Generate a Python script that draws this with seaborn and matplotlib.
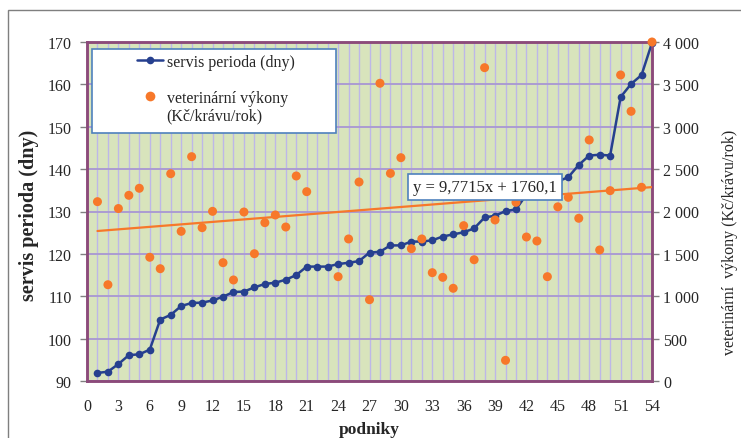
import numpy as np
import pandas as pd
import matplotlib
matplotlib.use("Agg")
import matplotlib.pyplot as plt
import seaborn as sns
from matplotlib.lines import Line2D
from matplotlib.patches import Rectangle
from matplotlib.ticker import MultipleLocator, FuncFormatter

sns.set_style("white")
plt.rcParams["font.family"] = ["Liberation Serif", "DejaVu Serif"]

# ---------------- data ----------------
podniky = list(range(1, 55))
servis_perioda = [91.9, 92.2, 94.0, 96.1, 96.3, 97.4, 104.5, 105.6, 107.7, 108.4,
                  108.5, 109.0, 109.9, 111.0, 111.1, 112.1, 112.9, 113.2, 113.9, 115.0,
                  117.0, 117.0, 117.0, 117.6, 117.9, 118.3, 120.3, 120.5, 122.0, 122.0,
                  122.9, 122.9, 123.2, 124.1, 124.6, 125.1, 126.0, 128.6, 129.0, 130.1,
                  130.5, 134.0, 135.5, 136.5, 137.1, 138.1, 141.0, 143.2, 143.4, 143.2,
                  157.0, 160.1, 162.2, 169.8]
vet_vykony = [2116, 1136, 2035, 2191, 2274, 1460, 1325, 2446, 1766, 2647,
              1809, 2002, 1396, 1192, 1994, 1502, 1868, 1959, 1817, 2419,
              2234, np.nan, np.nan, 1231, 1676, 2348, 959, 3513, 2450, 2635,
              1561, 1676, 1278, 1223, 1094, 1833, 1431, 3697, 1900, 244,
              2108, 1699, 1652, 1231, 2055, 2167, 1920, 2844, 1546, 2246,
              3611, 3182, 2286, 4000]
trend_slope = 9.7715
trend_intercept = 1760.1
trend_label = "y = 9,7715x + 1760,1"
x_ticks = list(range(0, 55, 3))
left_ticks = [90, 100, 110, 120, 130, 140, 150, 160, 170]
right_ticks = [0, 500, 1000, 1500, 2000, 2500, 3000, 3500, 4000]

label_servis = "servis perioda (dny)"
label_vet_1 = "veterinární výkony"
label_vet_2 = "(Kč/krávu/rok)"
ylabel_right = "veterinární  výkony (Kč/krávu/rok)"
xlabel = "podniky"

df = pd.DataFrame({"podnik": podniky, "servis": servis_perioda, "vet": vet_vykony})

# ---------------- style ----------------
BLUE = "#26408f"
ORANGE = "#f7782a"
BG = "#d8e4bc"
SPINE = "#8c4a7a"
VGRID = "#bdb7e8"
HGRID = "#ab9cd2"
TICKFS = 11.5

W, H = 741, 439
fig = plt.figure(figsize=(W / 100, H / 100), dpi=100)
fig.patch.set_facecolor("white")
L, R, T, B = 87, 652, 43, 382
ax = fig.add_axes([L / W, 1 - B / H, (R - L) / W, (B - T) / H])
ax.set_facecolor(BG)

sns.lineplot(data=df, x="podnik", y="servis", ax=ax, color=BLUE, lw=1.8,
             marker="o", markersize=5.5, markeredgewidth=0, zorder=3, clip_on=False)
ax.set_xlim(0, 54)
ax.set_ylim(90, 170)
ax.set_xticks(x_ticks)
ax.set_yticks(left_ticks)
ax.xaxis.set_minor_locator(MultipleLocator(1))
ax.grid(which="both", axis="x", color=VGRID, lw=1.0)
ax.grid(which="major", axis="y", color=HGRID, lw=1.4)
ax.set_axisbelow(True)
ax.tick_params(axis="y", which="both", left=True, length=5, width=1, color="#808080",
               labelsize=TICKFS, pad=6)
ax.tick_params(axis="x", which="both", bottom=True, length=0, labelsize=TICKFS, pad=12)

ax.set_ylabel(label_servis, fontsize=14.5, fontweight="bold", va="center")
ax.yaxis.set_label_coords((29 - L) / (R - L), (B - 215) / (B - T))
ax.set_xlabel(xlabel, fontsize=12.5, fontweight="bold", va="center")
ax.xaxis.set_label_coords(0.5, (B - 430) / (B - T))

ax2 = ax.twinx()
sns.scatterplot(data=df, x="podnik", y="vet", ax=ax2, color=ORANGE, s=42,
                edgecolor="none", linewidth=0, zorder=4, clip_on=False)
tx = np.array([podniky[0], podniky[-1]], dtype=float)
ty = trend_slope * tx + trend_intercept
sns.lineplot(x=tx, y=ty, ax=ax2, color=ORANGE, lw=1.6, zorder=3)
ax2.set_ylim(0, 4000)
ax2.set_yticks(right_ticks)
ax2.yaxis.set_major_formatter(FuncFormatter(lambda v, p: f"{int(v):,}".replace(",", " ")))
ax2.tick_params(axis="y", right=True, length=5, width=1, color="#808080",
                labelsize=TICKFS, pad=3)
ax2.set_ylabel(ylabel_right, fontsize=11.5, rotation=90, va="center")
ax2.yaxis.set_label_coords((730 - L) / (R - L), (B - 242) / (B - T))

for a in (ax, ax2):
    for s in a.spines.values():
        s.set_color(SPINE)
        s.set_linewidth(1.8)
        s.set_visible(True)

# legend box
lx0, lx1, ly0, ly1 = 92, 336, 50, 134
ax2.add_patch(Rectangle(((lx0 - L) / (R - L), (B - ly1) / (B - T)),
                        (lx1 - lx0) / (R - L), (ly1 - ly0) / (B - T),
                        transform=ax2.transAxes, facecolor="white",
                        edgecolor="#4f81bd", lw=1.2, zorder=5))
h_blue = Line2D([], [], color=BLUE, lw=1.8, marker="o", markersize=5.5, markeredgewidth=0)
h_or = Line2D([], [], color=ORANGE, ls="none", marker="o", markersize=7, markeredgewidth=0)
h_blank = Line2D([], [], ls="none")
leg = ax2.legend([h_blue, h_blank, h_or, h_blank],
                 [label_servis, "", label_vet_1, label_vet_2],
                 loc="upper left", bbox_to_anchor=((137 - L) / (R - L), (B - 55) / (B - T)),
                 frameon=False, fontsize=11.5, handlelength=1.6, handletextpad=0.25,
                 labelspacing=0.12, borderpad=0, borderaxespad=0)
leg.set_zorder(6)

# trend equation box
ax2.text((485 - L) / (R - L), (B - 188) / (B - T), trend_label, transform=ax2.transAxes,
         ha="center", va="center", fontsize=12, zorder=7,
         bbox=dict(boxstyle="square,pad=0.3", fc="white", ec="#4f81bd", lw=1.2))

# outer chart border
fig.add_artist(Rectangle((8 / W, -0.1), 1.2, 1 - 11 / H + 0.1, transform=fig.transFigure,
                         fill=False, ec="#7f7f7f", lw=1.0))

fig.savefig("out.png", dpi=100)
